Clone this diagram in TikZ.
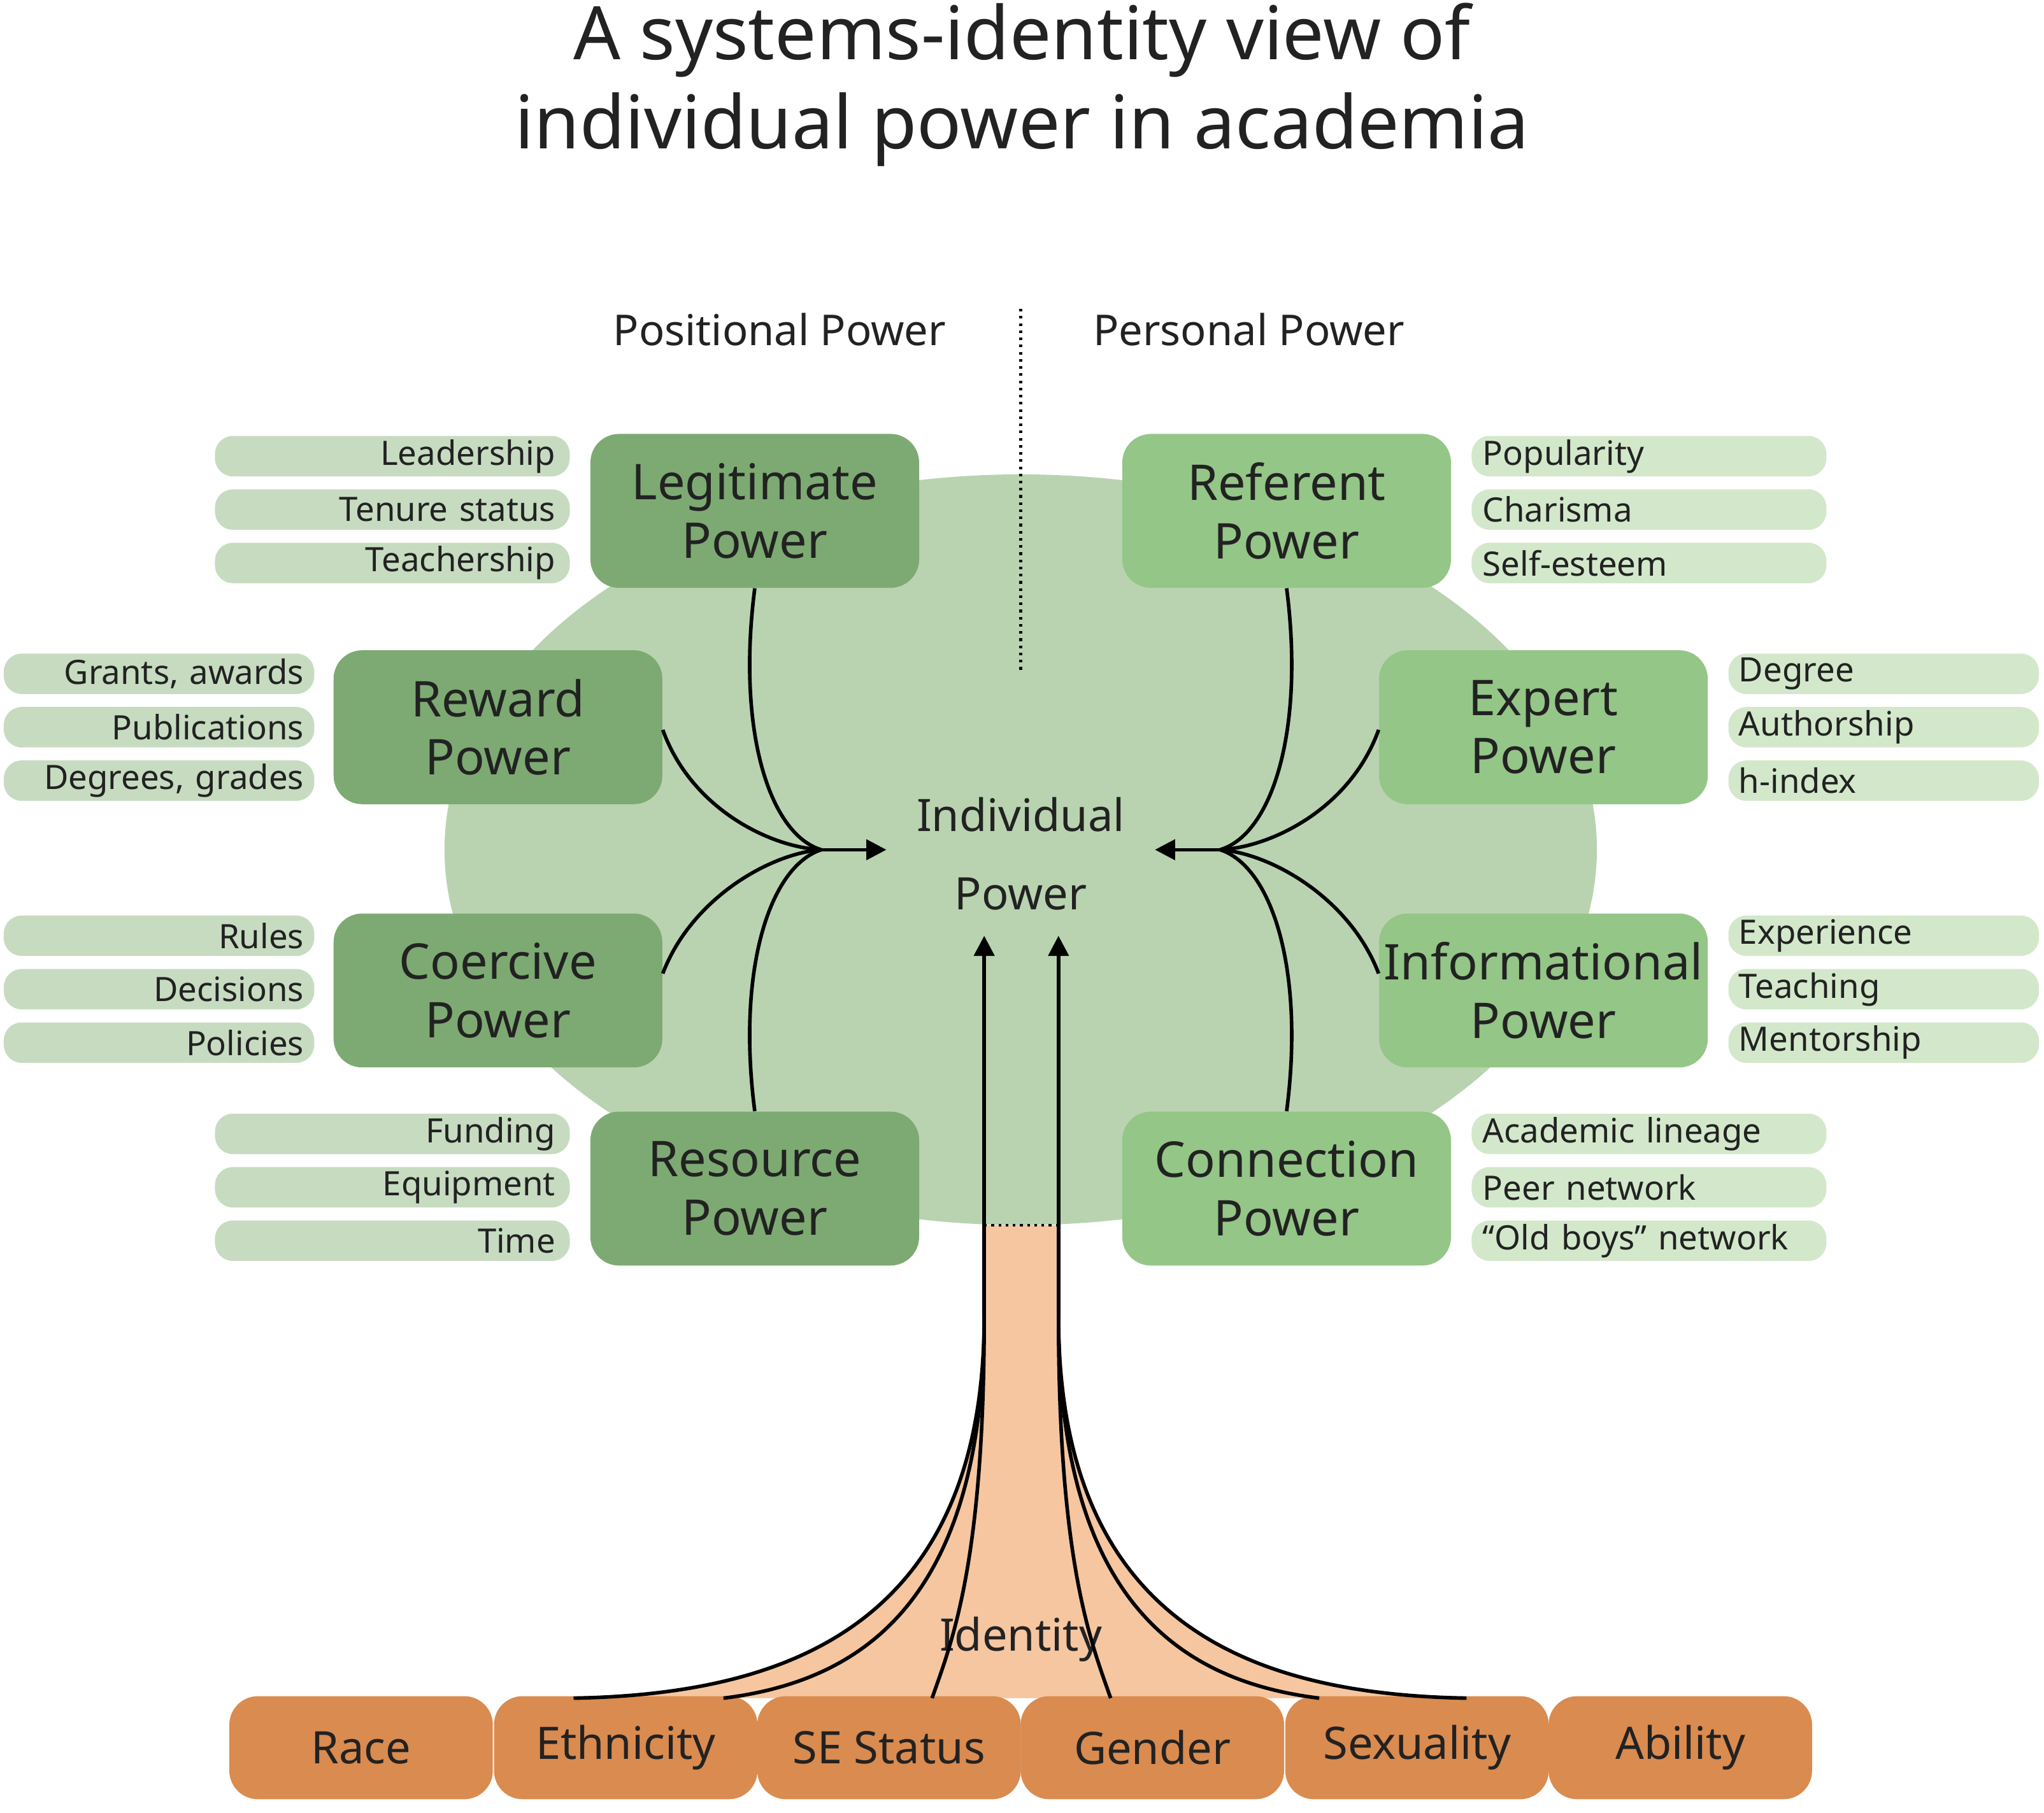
\documentclass[tikz,border=0pt]{standalone}
\usepackage{fontspec}
\setmainfont{Noto Sans}
\usetikzlibrary{arrows.meta}
\definecolor{ell}{HTML}{B9D3B0}
\definecolor{lbox}{HTML}{7DAA72}
\definecolor{rbox}{HTML}{94C687}
\definecolor{lpill}{HTML}{C7DBC1}
\definecolor{rpill}{HTML}{D3E8CB}
\definecolor{peach}{HTML}{F5C6A0}
\definecolor{orng}{HTML}{DA8B4F}
\definecolor{txt}{HTML}{222222}
\tikzset{
 pw/.style={rounded corners=22pt*0.58,minimum width=252*0.5826pt,minimum height=118*0.5826pt,align=center,font=\fontsize{22}{26}\selectfont,text=txt,inner sep=0pt},
 lp/.style={pw,fill=lbox},
 rp/.style={pw,fill=rbox},
 pill/.style={rounded corners=8pt,minimum height=31*0.5826pt,inner sep=0pt,font=\fontsize{15}{18}\selectfont,text=txt},
 pl/.style={pill,fill=lpill,minimum width=272*0.5826pt},
 pr/.style={pill,fill=rpill,minimum width=272*0.5826pt},
 idb/.style={rounded corners=22pt*0.58,fill=orng,minimum width=202*0.5826pt,minimum height=79*0.5826pt,font=\fontsize{20}{24}\selectfont,text=txt,inner sep=0pt},
 con/.style={line width=1.6pt,black},
 arr/.style={con,-{Triangle[length=9pt,width=9pt]}}
}
\begin{document}
\begin{tikzpicture}[x=0.020466cm,y=-0.020466cm]
\useasboundingbox (0,0) rectangle (1568,1391);
\node[font=\fontsize{33}{40}\selectfont,text=txt,align=center] (title) at (784,65) {A systems-identity view of\\individual power in academia};
\node[font=\fontsize{19}{22}\selectfont,text=txt] (pos) at (598,253) {Positional Power};
\node[font=\fontsize{19}{22}\selectfont,text=txt] (per) at (958,253) {Personal Power};
\fill[ell] (783,652) ellipse [x radius=442,y radius=288];
\draw[dotted,line width=1.2pt] (783,237) coordinate (d1) -- (783,515) coordinate (d2);
% trunk
\fill[peach] (755,940) -- (755,1010) .. controls (755,1250) and (600,1300) .. (440,1303) -- (1125,1303) .. controls (965,1300) and (812,1250) .. (812,1010) -- (812,940) -- cycle;
\draw[dotted,line width=1.2pt] (755,940) coordinate (t1) -- (812,940) coordinate (t2);
% boxes
\node[lp] (leg) at (579,392) {Legitimate\\Power};
\node[rp] (ref) at (987,392) {Referent\\Power};
\node[lp] (rew) at (382,558) {Reward\\Power};
\node[rp] (exp) at (1184,558) {Expert\\Power};
\node[lp] (coe) at (382,760) {Coercive\\Power};
\node[rp] (inf) at (1184,760) {Informational\\Power};
\node[lp] (res) at (579,912) {Resource\\Power};
\node[rp] (con) at (987,912) {Connection\\Power};
\node[font=\fontsize{20}{35}\selectfont,text=txt,align=center] (ind) at (783,655) {Individual\\Power};
% pills
\foreach \t/\y [count=\i] in {Leadership/350,Tenure status/391,Teachership/432,Funding/870,Equipment/911,Time/952}
 \node[pl,text width=250*0.5826pt,align=right] (pa\i) at (301,\y) {\t};
\foreach \t/\y [count=\i] in {{Grants, awards}/517,Publications/558,{Degrees, grades}/599,Rules/718,Decisions/759,Policies/800}
 \node[pl,minimum width=238*0.5826pt,text width=222*0.5826pt,align=right] (pb\i) at (122,\y) {\t};
\foreach \t/\y [count=\i] in {Popularity/350,Charisma/391,Self-esteem/432,Academic lineage/870,Peer network/911,“Old boys” network/952}
 \node[pr,text width=255*0.5826pt,align=left] (pc\i) at (1265,\y) {\t};
\foreach \t/\y [count=\i] in {Degree/517,Authorship/558,h-index/599,Experience/718,Teaching/759,Mentorship/800}
 \node[pr,minimum width=238*0.5826pt,text width=222*0.5826pt,align=left] (pd\i) at (1445,\y) {\t};
% connectors
\coordinate (jl) at (630,652); \coordinate (jr) at (936,652);
\coordinate (al) at (680,652); \coordinate (ar) at (886,652);
\draw[con] (leg.south) .. controls (565,560) and (590,640) .. (jl);
\draw[con] (res.north) .. controls (565,745) and (590,665) .. (jl);
\draw[con] (rew.east) ++(0,2) .. controls (530,620) and (590,650) .. (jl);
\draw[con] (coe.east) ++(0,-13) .. controls (530,690) and (590,655) .. (jl);
\draw[arr] (jl) -- (al);
\draw[con] (ref.south) .. controls (1001,560) and (976,640) .. (jr);
\draw[con] (con.north) .. controls (1001,745) and (976,665) .. (jr);
\draw[con] (exp.west) ++(0,2) .. controls (1036,620) and (976,650) .. (jr);
\draw[con] (inf.west) ++(0,-13) .. controls (1036,690) and (976,655) .. (jr);
\draw[arr] (jr) -- (ar);
% identity
\node[idb] (race) at (277,1341) {Race};
\node[idb] (eth) at (480,1341) {Ethnicity};
\node[idb] (ses) at (682,1341) {SE Status};
\node[idb] (gen) at (884,1341) {Gender};
\node[idb] (sex) at (1087,1341) {Sexuality};
\node[idb] (abi) at (1289,1341) {Ability};
\node[font=\fontsize{20}{24}\selectfont,text=txt] (idt) at (783,1258) {Identity};
\coordinate (bl) at (755,1010); \coordinate (br) at (812,1010);
\coordinate (tl) at (755,718); \coordinate (tr) at (812,718);
\draw[arr] (bl) -- (tl);
\draw[arr] (br) -- (tr);
\draw[con] (bl) .. controls (755,1250) and (600,1300) .. (440,1303) coordinate (c1);
\draw[con] (bl) .. controls (755,1230) and (660,1290) .. (555,1303) coordinate (c2);
\draw[con] (bl) .. controls (755,1200) and (730,1260) .. (715,1303) coordinate (c3);
\draw[con] (br) .. controls (812,1200) and (837,1260) .. (852,1303) coordinate (c4);
\draw[con] (br) .. controls (812,1230) and (907,1290) .. (1012,1303) coordinate (c5);
\draw[con] (br) .. controls (812,1250) and (965,1300) .. (1125,1303) coordinate (c6);
\end{tikzpicture}
\end{document}
